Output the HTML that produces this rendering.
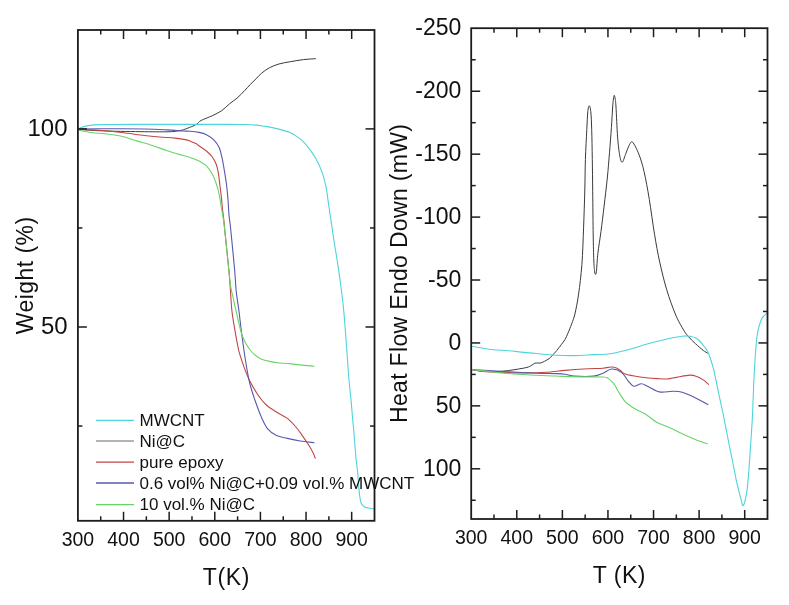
<!DOCTYPE html>
<html><head><meta charset="utf-8"><title>TGA / DSC</title>
<style>
html,body{margin:0;padding:0;background:#fff;}
body{width:789px;height:605px;overflow:hidden;}
svg{display:block;will-change:transform;}
text{font-family:"Liberation Sans",sans-serif;fill:#111;}
.xt{font-size:19.5px;text-anchor:middle;}
.yt{font-size:24px;text-anchor:end;}
.yt2{font-size:23px;text-anchor:end;}
.at{font-size:23px;}
.leg{font-size:17px;}
</style></head>
<body>
<svg width="789" height="605" viewBox="0 0 789 605">
<rect width="789" height="605" fill="#fff"/>
<g fill="none" stroke-linejoin="round" stroke-linecap="round"><path d="M77.80 129.40 C82.57 129.67 95.30 130.62 106.40 131.00 C117.50 131.38 133.75 131.58 144.40 131.70 C155.05 131.82 164.37 131.90 170.30 131.70 C176.23 131.50 177.75 130.85 180.00 130.50 C182.25 130.15 181.90 130.23 183.80 129.60 C185.70 128.97 189.20 127.63 191.40 126.70 C193.60 125.77 195.40 125.03 197.00 124.00 C198.60 122.97 198.45 121.88 201.00 120.50 C203.55 119.12 208.83 117.35 212.30 115.70 C215.77 114.05 218.95 112.57 221.80 110.60 C224.65 108.63 226.87 105.97 229.40 103.90 C231.93 101.83 234.47 100.42 237.00 98.20 C239.53 95.98 242.38 92.88 244.60 90.60 C246.82 88.32 248.40 86.47 250.30 84.50 C252.20 82.53 254.10 80.70 256.00 78.80 C257.90 76.90 259.47 74.93 261.70 73.10 C263.93 71.27 266.53 69.32 269.40 67.80 C272.27 66.28 275.42 65.02 278.90 64.00 C282.38 62.98 286.18 62.43 290.30 61.70 C294.42 60.97 299.42 60.10 303.60 59.60 C307.78 59.10 313.43 58.85 315.40 58.70" stroke="#3a3a3a" stroke-width="1.00"/><path d="M77.80 129.40 C81.30 129.53 91.50 129.68 98.80 130.20 C106.10 130.72 114.00 131.62 121.60 132.50 C129.20 133.38 138.07 134.75 144.40 135.50 C150.73 136.25 154.52 136.57 159.60 137.00 C164.68 137.43 170.58 137.67 174.90 138.10 C179.22 138.53 182.98 139.10 185.50 139.60 C188.02 140.10 188.25 140.43 190.00 141.10 C191.75 141.77 194.52 142.82 196.00 143.60 C197.48 144.38 197.17 144.57 198.90 145.80 C200.63 147.03 204.17 149.13 206.40 151.00 C208.63 152.87 210.70 154.88 212.30 157.00 C213.90 159.12 215.00 161.10 216.00 163.70 C217.00 166.30 217.67 169.13 218.30 172.60 C218.93 176.07 219.30 180.53 219.80 184.50 C220.30 188.47 220.87 192.43 221.30 196.40 C221.73 200.37 221.98 204.38 222.40 208.30 C222.82 212.22 223.20 214.25 223.80 219.90 C224.40 225.55 225.25 234.77 226.00 242.20 C226.75 249.63 227.63 257.55 228.30 264.50 C228.97 271.45 229.42 276.35 230.00 283.90 C230.58 291.45 231.00 302.17 231.80 309.80 C232.60 317.43 233.72 323.25 234.80 329.70 C235.88 336.15 237.35 344.03 238.30 348.50 C239.25 352.97 239.50 353.27 240.50 356.50 C241.50 359.73 242.77 363.85 244.30 367.90 C245.83 371.95 247.55 376.50 249.70 380.80 C251.85 385.10 254.52 389.75 257.20 393.70 C259.88 397.65 262.58 401.45 265.80 404.50 C269.02 407.55 272.92 409.68 276.50 412.00 C280.08 414.32 284.07 415.90 287.30 418.40 C290.53 420.90 293.40 424.13 295.90 427.00 C298.40 429.87 300.15 432.55 302.30 435.60 C304.45 438.65 307.00 442.43 308.80 445.30 C310.60 448.17 312.03 450.65 313.10 452.80 C314.17 454.95 314.85 457.30 315.20 458.20" stroke="#c04646" stroke-width="1.10"/><path d="M77.80 129.10 C81.30 129.03 87.70 128.72 98.80 128.70 C109.90 128.68 132.98 128.80 144.40 129.00 C155.82 129.20 160.95 129.57 167.30 129.90 C173.65 130.23 178.72 130.77 182.50 131.00 C186.28 131.23 187.27 131.07 190.00 131.30 C192.73 131.53 196.17 131.83 198.90 132.40 C201.63 132.97 203.92 133.45 206.40 134.70 C208.88 135.95 211.70 137.80 213.80 139.90 C215.90 142.00 217.63 144.33 219.00 147.30 C220.37 150.27 221.13 153.98 222.00 157.70 C222.87 161.42 223.45 165.13 224.20 169.60 C224.95 174.07 225.87 179.53 226.50 184.50 C227.13 189.47 227.58 194.32 228.00 199.40 C228.42 204.48 228.58 210.35 229.00 215.00 C229.42 219.65 229.88 221.53 230.50 227.30 C231.12 233.07 231.98 242.15 232.70 249.60 C233.42 257.05 234.20 264.93 234.80 272.00 C235.40 279.07 235.63 285.70 236.30 292.00 C236.97 298.30 237.90 302.85 238.80 309.80 C239.70 316.75 240.58 325.25 241.70 333.70 C242.82 342.15 244.17 352.28 245.50 360.50 C246.83 368.72 248.12 376.38 249.70 383.00 C251.28 389.62 253.03 394.47 255.00 400.20 C256.97 405.93 259.35 412.57 261.50 417.40 C263.65 422.23 265.40 426.17 267.90 429.20 C270.40 432.23 273.27 434.07 276.50 435.60 C279.73 437.13 283.35 437.50 287.30 438.40 C291.25 439.30 295.73 440.28 300.20 441.00 C304.67 441.72 311.78 442.42 314.10 442.70" stroke="#5858ae" stroke-width="1.10"/><path d="M77.80 129.90 C80.03 130.33 86.43 131.82 91.20 132.50 C95.97 133.18 101.33 133.37 106.40 134.00 C111.47 134.63 116.53 135.15 121.60 136.30 C126.67 137.45 131.73 139.38 136.80 140.90 C141.87 142.42 146.92 143.77 152.00 145.40 C157.08 147.03 162.22 149.05 167.30 150.70 C172.38 152.35 178.72 154.18 182.50 155.30 C186.28 156.42 187.92 156.73 190.00 157.40 C192.08 158.07 193.42 158.65 195.00 159.30 C196.58 159.95 197.60 160.20 199.50 161.30 C201.40 162.40 204.27 163.77 206.40 165.90 C208.53 168.03 210.70 171.25 212.30 174.10 C213.90 176.95 214.88 179.77 216.00 183.00 C217.12 186.23 218.17 189.77 219.00 193.50 C219.83 197.23 220.45 202.18 221.00 205.40 C221.55 208.62 221.83 210.03 222.30 212.80 C222.77 215.57 223.18 217.10 223.80 222.00 C224.42 226.90 225.25 235.12 226.00 242.20 C226.75 249.28 227.58 257.55 228.30 264.50 C229.02 271.45 229.72 279.32 230.30 283.90 C230.88 288.48 230.88 287.68 231.80 292.00 C232.72 296.32 234.35 303.47 235.80 309.80 C237.25 316.13 239.05 324.80 240.50 330.00 C241.95 335.20 242.83 337.58 244.50 341.00 C246.17 344.42 248.58 348.03 250.50 350.50 C252.42 352.97 254.17 354.35 256.00 355.80 C257.83 357.25 259.25 358.27 261.50 359.20 C263.75 360.13 266.52 360.77 269.50 361.40 C272.48 362.03 275.98 362.63 279.40 363.00 C282.82 363.37 285.82 363.20 290.00 363.60 C294.18 364.00 300.48 364.97 304.50 365.40 C308.52 365.83 312.50 366.07 314.10 366.20" stroke="#68d468" stroke-width="1.10"/><path d="M77.80 129.10 C78.50 128.78 80.27 127.78 82.00 127.20 C83.73 126.62 84.88 126.03 88.20 125.60 C91.52 125.17 91.60 124.80 101.90 124.60 C112.20 124.40 134.32 124.43 150.00 124.40 C165.68 124.37 180.00 124.38 196.00 124.40 C212.00 124.42 234.42 124.17 246.00 124.50 C257.58 124.83 259.70 125.55 265.50 126.40 C271.30 127.25 276.72 128.57 280.80 129.60 C284.88 130.63 287.30 131.43 290.00 132.60 C292.70 133.77 294.83 135.13 297.00 136.60 C299.17 138.07 301.08 139.53 303.00 141.40 C304.92 143.27 306.38 144.98 308.50 147.80 C310.62 150.62 313.40 154.12 315.70 158.30 C318.00 162.48 320.53 167.83 322.30 172.90 C324.07 177.97 325.25 183.43 326.30 188.70 C327.35 193.97 327.72 198.50 328.60 204.50 C329.48 210.50 330.62 218.12 331.60 224.70 C332.58 231.28 333.50 237.60 334.50 244.00 C335.50 250.40 336.53 256.05 337.60 263.10 C338.67 270.15 339.90 278.58 340.90 286.30 C341.90 294.02 342.83 301.68 343.60 309.40 C344.37 317.12 344.90 324.88 345.50 332.60 C346.10 340.32 346.62 347.80 347.20 355.70 C347.78 363.60 348.37 372.65 349.00 380.00 C349.63 387.35 350.37 393.03 351.00 399.80 C351.63 406.57 352.35 415.57 352.80 420.60 C353.25 425.63 353.37 426.10 353.70 430.00 C354.03 433.90 354.42 439.32 354.80 444.00 C355.18 448.68 355.53 453.42 356.00 458.10 C356.47 462.78 357.15 467.42 357.60 472.10 C358.05 476.78 358.35 482.22 358.70 486.20 C359.05 490.18 359.30 493.20 359.70 496.00 C360.10 498.80 360.40 501.25 361.10 503.00 C361.80 504.75 362.73 505.67 363.90 506.50 C365.07 507.33 366.35 507.58 368.10 508.00 C369.85 508.42 373.35 508.83 374.40 509.00" stroke="#4dd4dc" stroke-width="1.10"/><path d="M471.50 369.50 C473.45 369.80 478.72 370.97 483.20 371.30 C487.68 371.63 494.17 371.63 498.40 371.50 C502.63 371.37 505.22 370.92 508.60 370.50 C511.98 370.08 515.63 369.52 518.70 369.00 C521.77 368.48 524.95 367.95 527.00 367.40 C529.05 366.85 529.72 366.38 531.00 365.70 C532.28 365.02 533.62 363.75 534.70 363.30 C535.78 362.85 536.53 363.05 537.50 363.00 C538.47 362.95 539.33 363.28 540.50 363.00 C541.67 362.72 543.07 362.03 544.50 361.30 C545.93 360.57 547.82 359.55 549.10 358.60 C550.38 357.65 550.93 356.93 552.20 355.60 C553.47 354.27 555.18 352.43 556.70 350.60 C558.22 348.77 559.92 346.45 561.30 344.60 C562.68 342.75 563.90 341.38 565.00 339.50 C566.10 337.62 566.78 335.92 567.90 333.30 C569.02 330.68 570.53 327.02 571.70 323.80 C572.87 320.58 573.75 318.95 574.90 314.00 C576.05 309.05 577.43 302.37 578.60 294.10 C579.77 285.83 581.07 275.55 581.90 264.40 C582.73 253.25 583.12 239.60 583.60 227.20 C584.08 214.80 584.50 201.30 584.80 190.00 C585.10 178.70 585.07 169.47 585.40 159.40 C585.73 149.33 586.40 137.55 586.80 129.60 C587.20 121.65 587.40 115.67 587.80 111.70 C588.20 107.73 588.70 105.80 589.20 105.80 C589.70 105.80 590.38 107.73 590.80 111.70 C591.22 115.67 591.45 121.65 591.70 129.60 C591.95 137.55 592.13 149.03 592.30 159.40 C592.47 169.77 592.55 179.20 592.70 191.80 C592.85 204.40 593.02 223.63 593.20 235.00 C593.38 246.37 593.58 254.08 593.80 260.00 C594.02 265.92 594.25 268.13 594.50 270.50 C594.75 272.87 594.98 274.03 595.30 274.20 C595.62 274.37 595.97 274.98 596.40 271.50 C596.83 268.02 597.13 260.00 597.90 253.30 C598.67 246.60 599.97 239.15 601.00 231.30 C602.03 223.45 603.05 215.08 604.10 206.20 C605.15 197.32 606.40 186.90 607.30 178.00 C608.20 169.10 608.82 161.18 609.50 152.80 C610.18 144.42 610.88 135.17 611.40 127.70 C611.92 120.23 612.27 112.78 612.60 108.00 C612.93 103.22 613.12 101.12 613.40 99.00 C613.68 96.88 614.00 95.30 614.30 95.30 C614.60 95.30 614.92 97.05 615.20 99.00 C615.48 100.95 615.60 100.65 616.00 107.00 C616.40 113.35 616.97 128.93 617.60 137.10 C618.23 145.27 619.02 151.82 619.80 156.00 C620.58 160.18 621.35 162.47 622.30 162.20 C623.25 161.93 624.33 157.27 625.50 154.40 C626.67 151.53 628.12 147.03 629.30 145.00 C630.48 142.97 631.00 140.65 632.60 142.20 C634.20 143.75 636.98 149.38 638.90 154.30 C640.82 159.22 642.37 164.18 644.10 171.70 C645.83 179.22 647.57 188.98 649.30 199.40 C651.03 209.82 652.77 223.77 654.50 234.20 C656.23 244.63 657.67 252.75 659.70 262.00 C661.73 271.25 664.10 281.03 666.70 289.70 C669.30 298.37 672.72 307.68 675.30 314.00 C677.88 320.32 680.08 323.90 682.20 327.60 C684.32 331.30 685.77 333.50 688.00 336.20 C690.23 338.90 693.07 341.43 695.60 343.80 C698.13 346.17 701.15 348.82 703.20 350.40 C705.25 351.98 707.12 352.82 707.90 353.30" stroke="#3a3a3a" stroke-width="1.00"/><path d="M471.50 369.50 C473.45 369.83 478.70 371.03 483.20 371.50 C487.70 371.97 491.20 372.07 498.50 372.30 C505.80 372.53 519.08 372.90 527.00 372.90 C534.92 372.90 539.67 372.72 546.00 372.30 C552.33 371.88 558.67 370.95 565.00 370.40 C571.33 369.85 577.67 369.37 584.00 369.00 C590.33 368.63 599.00 368.47 603.00 368.20 C607.00 367.93 606.42 367.60 608.00 367.40 C609.58 367.20 611.00 366.87 612.50 367.00 C614.00 367.13 615.58 367.53 617.00 368.20 C618.42 368.87 619.63 370.03 621.00 371.00 C622.37 371.97 622.28 373.05 625.20 374.00 C628.12 374.95 633.12 375.93 638.50 376.70 C643.88 377.47 652.75 378.22 657.50 378.60 C662.25 378.98 663.83 379.20 667.00 379.00 C670.17 378.80 672.70 378.05 676.50 377.40 C680.30 376.75 686.30 375.22 689.80 375.10 C693.30 374.98 695.27 375.90 697.50 376.70 C699.73 377.50 701.37 378.63 703.20 379.90 C705.03 381.17 707.62 383.57 708.50 384.30" stroke="#c04646" stroke-width="1.10"/><path d="M471.50 369.50 C477.58 369.87 497.17 371.08 508.00 371.70 C518.83 372.32 528.57 372.88 536.50 373.20 C544.43 373.52 550.85 373.43 555.60 373.60 C560.35 373.77 561.83 373.78 565.00 374.20 C568.17 374.62 569.83 375.78 574.60 376.10 C579.37 376.42 588.87 376.58 593.60 376.10 C598.33 375.62 600.00 374.38 603.00 373.20 C606.00 372.02 608.53 369.15 611.60 369.00 C614.67 368.85 618.65 370.33 621.40 372.30 C624.15 374.27 626.03 378.48 628.10 380.80 C630.17 383.12 631.58 385.72 633.80 386.20 C636.02 386.68 639.03 383.65 641.40 383.70 C643.77 383.75 645.00 385.13 648.00 386.50 C651.00 387.87 655.28 391.10 659.40 391.90 C663.52 392.70 668.90 391.25 672.70 391.30 C676.50 391.35 678.70 391.25 682.20 392.20 C685.70 393.15 689.42 394.93 693.70 397.00 C697.98 399.07 705.53 403.33 707.90 404.60" stroke="#5858ae" stroke-width="1.10"/><path d="M471.50 369.50 C476.00 370.02 489.25 371.72 498.50 372.60 C507.75 373.48 517.48 374.23 527.00 374.80 C536.52 375.37 547.67 375.67 555.60 376.00 C563.53 376.33 566.70 376.63 574.60 376.80 C582.50 376.97 597.30 376.65 603.00 377.00 C608.70 377.35 606.88 377.63 608.80 378.90 C610.72 380.17 613.03 382.70 614.50 384.60 C615.97 386.50 615.82 387.45 617.60 390.30 C619.38 393.15 622.67 398.83 625.20 401.70 C627.73 404.57 630.73 406.08 632.80 407.50 C634.87 408.92 635.53 409.12 637.60 410.20 C639.67 411.28 643.08 412.73 645.20 414.00 C647.32 415.27 648.40 416.43 650.30 417.80 C652.20 419.17 654.07 420.83 656.60 422.20 C659.13 423.57 662.53 424.72 665.50 426.00 C668.47 427.28 671.45 428.52 674.40 429.90 C677.35 431.28 680.03 432.83 683.20 434.30 C686.37 435.77 690.23 437.40 693.40 438.70 C696.57 440.00 699.88 441.25 702.20 442.10 C704.52 442.95 706.45 443.52 707.30 443.80" stroke="#68d468" stroke-width="1.10"/><path d="M471.50 346.20 C472.95 346.45 476.55 347.12 480.20 347.70 C483.85 348.28 488.67 349.20 493.40 349.70 C498.13 350.20 503.53 350.25 508.60 350.70 C513.67 351.15 518.73 351.88 523.80 352.40 C528.87 352.92 533.70 353.33 539.00 353.80 C544.30 354.27 549.67 354.90 555.60 355.20 C561.53 355.50 568.27 355.70 574.60 355.60 C580.93 355.50 587.70 354.90 593.60 354.60 C599.50 354.30 604.10 354.65 610.00 353.80 C615.90 352.95 622.67 351.17 629.00 349.50 C635.33 347.83 641.67 345.55 648.00 343.80 C654.33 342.05 661.30 340.27 667.00 339.00 C672.70 337.73 678.40 336.67 682.20 336.20 C686.00 335.73 687.25 335.73 689.80 336.20 C692.35 336.67 694.97 337.10 697.50 339.00 C700.03 340.90 703.10 345.07 705.00 347.60 C706.90 350.13 707.47 350.57 708.90 354.20 C710.33 357.83 712.02 363.07 713.60 369.40 C715.18 375.73 716.95 385.43 718.40 392.20 C719.85 398.97 721.05 404.00 722.30 410.00 C723.55 416.00 724.70 422.13 725.90 428.20 C727.10 434.27 728.28 440.35 729.50 446.40 C730.72 452.45 731.98 458.45 733.20 464.50 C734.42 470.55 735.58 477.23 736.80 482.70 C738.02 488.17 739.43 493.50 740.50 497.30 C741.57 501.10 742.15 506.42 743.20 505.50 C744.25 504.58 745.90 497.12 746.80 491.80 C747.70 486.48 747.98 481.17 748.60 473.60 C749.22 466.03 749.88 455.48 750.50 446.40 C751.12 437.32 751.85 427.27 752.30 419.10 C752.75 410.93 752.90 404.58 753.20 397.40 C753.50 390.22 753.73 383.15 754.10 376.00 C754.47 368.85 754.93 360.95 755.40 354.50 C755.87 348.05 756.30 341.97 756.90 337.30 C757.50 332.63 758.12 329.73 759.00 326.50 C759.88 323.27 760.95 320.05 762.20 317.90 C763.45 315.75 765.50 314.38 766.50 313.60 C767.50 312.82 767.92 313.27 768.20 313.20" stroke="#4dd4dc" stroke-width="1.10"/></g>
<g stroke="#1c1c1c" stroke-width="1.5">
<line x1="123.53" y1="520.80" x2="123.53" y2="511.80"/>
<line x1="123.53" y1="30.00" x2="123.53" y2="39.00"/>
<line x1="169.16" y1="520.80" x2="169.16" y2="511.80"/>
<line x1="169.16" y1="30.00" x2="169.16" y2="39.00"/>
<line x1="214.79" y1="520.80" x2="214.79" y2="511.80"/>
<line x1="214.79" y1="30.00" x2="214.79" y2="39.00"/>
<line x1="260.42" y1="520.80" x2="260.42" y2="511.80"/>
<line x1="260.42" y1="30.00" x2="260.42" y2="39.00"/>
<line x1="306.05" y1="520.80" x2="306.05" y2="511.80"/>
<line x1="306.05" y1="30.00" x2="306.05" y2="39.00"/>
<line x1="351.68" y1="520.80" x2="351.68" y2="511.80"/>
<line x1="351.68" y1="30.00" x2="351.68" y2="39.00"/>
<line x1="100.72" y1="520.80" x2="100.72" y2="516.30"/>
<line x1="100.72" y1="30.00" x2="100.72" y2="34.50"/>
<line x1="146.35" y1="520.80" x2="146.35" y2="516.30"/>
<line x1="146.35" y1="30.00" x2="146.35" y2="34.50"/>
<line x1="191.98" y1="520.80" x2="191.98" y2="516.30"/>
<line x1="191.98" y1="30.00" x2="191.98" y2="34.50"/>
<line x1="237.61" y1="520.80" x2="237.61" y2="516.30"/>
<line x1="237.61" y1="30.00" x2="237.61" y2="34.50"/>
<line x1="283.24" y1="520.80" x2="283.24" y2="516.30"/>
<line x1="283.24" y1="30.00" x2="283.24" y2="34.50"/>
<line x1="328.87" y1="520.80" x2="328.87" y2="516.30"/>
<line x1="328.87" y1="30.00" x2="328.87" y2="34.50"/>
<line x1="77.90" y1="128.90" x2="86.90" y2="128.90"/>
<line x1="374.50" y1="128.90" x2="365.50" y2="128.90"/>
<line x1="77.90" y1="327.00" x2="86.90" y2="327.00"/>
<line x1="374.50" y1="327.00" x2="365.50" y2="327.00"/>
<line x1="77.90" y1="227.95" x2="82.40" y2="227.95"/>
<line x1="374.50" y1="227.95" x2="370.00" y2="227.95"/>
<line x1="77.90" y1="426.05" x2="82.40" y2="426.05"/>
<line x1="374.50" y1="426.05" x2="370.00" y2="426.05"/>
<line x1="516.78" y1="519.00" x2="516.78" y2="510.00"/>
<line x1="516.78" y1="28.20" x2="516.78" y2="37.20"/>
<line x1="562.37" y1="519.00" x2="562.37" y2="510.00"/>
<line x1="562.37" y1="28.20" x2="562.37" y2="37.20"/>
<line x1="607.95" y1="519.00" x2="607.95" y2="510.00"/>
<line x1="607.95" y1="28.20" x2="607.95" y2="37.20"/>
<line x1="653.54" y1="519.00" x2="653.54" y2="510.00"/>
<line x1="653.54" y1="28.20" x2="653.54" y2="37.20"/>
<line x1="699.12" y1="519.00" x2="699.12" y2="510.00"/>
<line x1="699.12" y1="28.20" x2="699.12" y2="37.20"/>
<line x1="744.71" y1="519.00" x2="744.71" y2="510.00"/>
<line x1="744.71" y1="28.20" x2="744.71" y2="37.20"/>
<line x1="493.99" y1="519.00" x2="493.99" y2="514.50"/>
<line x1="493.99" y1="28.20" x2="493.99" y2="32.70"/>
<line x1="539.58" y1="519.00" x2="539.58" y2="514.50"/>
<line x1="539.58" y1="28.20" x2="539.58" y2="32.70"/>
<line x1="585.16" y1="519.00" x2="585.16" y2="514.50"/>
<line x1="585.16" y1="28.20" x2="585.16" y2="32.70"/>
<line x1="630.75" y1="519.00" x2="630.75" y2="514.50"/>
<line x1="630.75" y1="28.20" x2="630.75" y2="32.70"/>
<line x1="676.33" y1="519.00" x2="676.33" y2="514.50"/>
<line x1="676.33" y1="28.20" x2="676.33" y2="32.70"/>
<line x1="721.92" y1="519.00" x2="721.92" y2="514.50"/>
<line x1="721.92" y1="28.20" x2="721.92" y2="32.70"/>
<line x1="471.20" y1="91.23" x2="480.20" y2="91.23"/>
<line x1="767.50" y1="91.23" x2="758.50" y2="91.23"/>
<line x1="471.20" y1="154.16" x2="480.20" y2="154.16"/>
<line x1="767.50" y1="154.16" x2="758.50" y2="154.16"/>
<line x1="471.20" y1="217.09" x2="480.20" y2="217.09"/>
<line x1="767.50" y1="217.09" x2="758.50" y2="217.09"/>
<line x1="471.20" y1="280.01" x2="480.20" y2="280.01"/>
<line x1="767.50" y1="280.01" x2="758.50" y2="280.01"/>
<line x1="471.20" y1="342.94" x2="480.20" y2="342.94"/>
<line x1="767.50" y1="342.94" x2="758.50" y2="342.94"/>
<line x1="471.20" y1="405.87" x2="480.20" y2="405.87"/>
<line x1="767.50" y1="405.87" x2="758.50" y2="405.87"/>
<line x1="471.20" y1="468.80" x2="480.20" y2="468.80"/>
<line x1="767.50" y1="468.80" x2="758.50" y2="468.80"/>
<line x1="471.20" y1="59.76" x2="475.70" y2="59.76"/>
<line x1="767.50" y1="59.76" x2="763.00" y2="59.76"/>
<line x1="471.20" y1="122.69" x2="475.70" y2="122.69"/>
<line x1="767.50" y1="122.69" x2="763.00" y2="122.69"/>
<line x1="471.20" y1="185.62" x2="475.70" y2="185.62"/>
<line x1="767.50" y1="185.62" x2="763.00" y2="185.62"/>
<line x1="471.20" y1="248.55" x2="475.70" y2="248.55"/>
<line x1="767.50" y1="248.55" x2="763.00" y2="248.55"/>
<line x1="471.20" y1="311.48" x2="475.70" y2="311.48"/>
<line x1="767.50" y1="311.48" x2="763.00" y2="311.48"/>
<line x1="471.20" y1="374.41" x2="475.70" y2="374.41"/>
<line x1="767.50" y1="374.41" x2="763.00" y2="374.41"/>
<line x1="471.20" y1="437.34" x2="475.70" y2="437.34"/>
<line x1="767.50" y1="437.34" x2="763.00" y2="437.34"/>
<line x1="471.20" y1="500.26" x2="475.70" y2="500.26"/>
<line x1="767.50" y1="500.26" x2="763.00" y2="500.26"/>
</g>
<rect x="77.90" y="30.00" width="296.60" height="490.80" fill="none" stroke="#1c1c1c" stroke-width="1.8"/>
<rect x="471.20" y="28.20" width="296.30" height="490.80" fill="none" stroke="#1c1c1c" stroke-width="1.8"/>
<g>
<line x1="96" y1="420.40" x2="134" y2="420.40" stroke="#4dd4dc" stroke-width="1.3"/>
<text x="139.5" y="426.00" class="leg">MWCNT</text>
<line x1="96" y1="441.00" x2="134" y2="441.00" stroke="#9a9a9a" stroke-width="1.3"/>
<text x="139.5" y="446.60" class="leg">Ni@C</text>
<line x1="96" y1="462.20" x2="134" y2="462.20" stroke="#c04646" stroke-width="1.3"/>
<text x="139.5" y="467.80" class="leg">pure epoxy</text>
<line x1="96" y1="483.00" x2="134" y2="483.00" stroke="#5858ae" stroke-width="1.3"/>
<text x="139.5" y="488.60" class="leg">0.6 vol% Ni@C+0.09 vol.% MWCNT</text>
<line x1="96" y1="504.70" x2="134" y2="504.70" stroke="#68d468" stroke-width="1.3"/>
<text x="139.5" y="510.30" class="leg">10 vol.% Ni@C</text>
</g>
<text x="77.90" y="545.6" class="xt">300</text><text x="471.20" y="543.8" class="xt">300</text><text x="123.53" y="545.6" class="xt">400</text><text x="516.78" y="543.8" class="xt">400</text><text x="169.16" y="545.6" class="xt">500</text><text x="562.37" y="543.8" class="xt">500</text><text x="214.79" y="545.6" class="xt">600</text><text x="607.95" y="543.8" class="xt">600</text><text x="260.42" y="545.6" class="xt">700</text><text x="653.54" y="543.8" class="xt">700</text><text x="306.05" y="545.6" class="xt">800</text><text x="699.12" y="543.8" class="xt">800</text><text x="351.68" y="545.6" class="xt">900</text><text x="744.71" y="543.8" class="xt">900</text>
<text x="67.5" y="136.0" class="yt">100</text>
<text x="67.6" y="334.0" class="yt">50</text>
<text x="461.3" y="35.20" class="yt2">-250</text>
<text x="461.3" y="98.13" class="yt2">-200</text>
<text x="461.3" y="161.06" class="yt2">-150</text>
<text x="461.3" y="223.99" class="yt2">-100</text>
<text x="461.3" y="286.91" class="yt2">-50</text>
<text x="461.3" y="349.84" class="yt2">0</text>
<text x="461.3" y="412.77" class="yt2">50</text>
<text x="461.3" y="475.70" class="yt2">100</text>
<text x="226.4" y="584.6" class="at" text-anchor="middle" letter-spacing="0.7">T(K)</text>
<text x="619.3" y="582.6" class="at" text-anchor="middle" letter-spacing="0.5">T (K)</text>
<text transform="translate(32.9 275.4) rotate(-90)" class="at" text-anchor="middle" letter-spacing="0.45">Weight (%)</text>
<text transform="translate(407.1 273.4) rotate(-90)" class="at" text-anchor="middle" letter-spacing="0.33">Heat Flow Endo Down (mW)</text>
</svg>
</body></html>
